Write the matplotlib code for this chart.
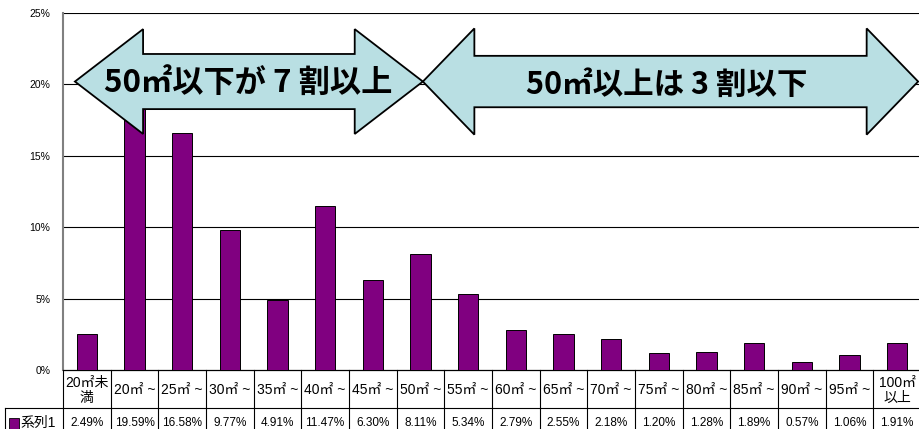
#!/usr/bin/env python3
"""Floor-area distribution bar chart with data table and two arrow callouts."""

import matplotlib
matplotlib.use('Agg')
import matplotlib.pyplot as plt
from matplotlib import font_manager
from matplotlib.patches import Polygon, Rectangle
from matplotlib.transforms import blended_transform_factory

# --- data -----------------------------------------------------------------
categories = ['20㎡未\n満', '20㎡ ~', '25㎡ ~', '30㎡ ~', '35㎡ ~', '40㎡ ~',
              '45㎡ ~', '50㎡ ~', '55㎡ ~', '60㎡ ~', '65㎡ ~', '70㎡ ~',
              '75㎡ ~', '80㎡ ~', '85㎡ ~', '90㎡ ~', '95㎡ ~', '100㎡\n以上']
values = [2.49, 19.59, 16.58, 9.77, 4.91, 11.47, 6.30, 8.11, 5.34,
          2.79, 2.55, 2.18, 1.20, 1.28, 1.89, 0.57, 1.06, 1.91]
series_name = '系列1'
y_ticks = [0, 5, 10, 15, 20, 25]
callouts = ['50㎡以下が 7 割以上', '50㎡以上は 3 割以下']

BAR_COLOR = '#800080'
ARROW_COLOR = '#b9dfe3'
SANS = ['Liberation Sans', 'Noto Sans CJK JP']
CJK_BOLD = ['Noto Sans CJK JP', 'DejaVu Sans']


def narrow_font():
    """Use Liberation Sans Narrow for the value row when it is installed."""
    try:
        font_manager.findfont('Liberation Sans Narrow', fallback_to_default=False)
        return ['Liberation Sans Narrow', 'Noto Sans CJK JP'], 10
    except ValueError:
        return SANS, 8.5


def double_arrow(ax, x0, x1, yc, head_len, head_half, shaft_half):
    """Draw a left-right block arrow in data coordinates."""
    pts = [(x0, yc),
           (x0 + head_len, yc + head_half), (x0 + head_len, yc + shaft_half),
           (x1 - head_len, yc + shaft_half), (x1 - head_len, yc + head_half),
           (x1, yc),
           (x1 - head_len, yc - head_half), (x1 - head_len, yc - shaft_half),
           (x0 + head_len, yc - shaft_half), (x0 + head_len, yc - head_half)]
    ax.add_patch(Polygon(pts, closed=True, facecolor=ARROW_COLOR,
                         edgecolor='black', linewidth=1.3, zorder=5,
                         clip_on=False))


def main():
    W, H = 919, 429
    fig = plt.figure(figsize=(W / 100, H / 100), dpi=100)
    ax = fig.add_axes([63 / W, 59 / H, 858 / W, 357 / H])

    n = len(categories)
    x = list(range(n))
    ax.bar(x, values, width=0.42, color=BAR_COLOR, edgecolor='black',
           linewidth=0.7, zorder=3)

    ax.set_xlim(-0.5, n - 0.5)
    ax.set_ylim(0, 25)
    ax.set_yticks(y_ticks)
    ax.set_yticklabels([f'{t}%' for t in y_ticks], fontsize=7.5, family=SANS)
    ax.tick_params(axis='y', length=0, pad=9)
    ax.set_xticks([])
    for t in y_ticks[1:]:
        ax.axhline(t, color='black', linewidth=0.8, zorder=1)

    for side in ['top', 'right']:
        ax.spines[side].set_visible(False)
    ax.spines['left'].set_color('#808080')
    ax.spines['left'].set_linewidth(1.5)
    ax.spines['bottom'].set_color('black')
    ax.spines['bottom'].set_linewidth(0.9)

    # --- data table below the axes ---
    tr = blended_transform_factory(ax.transData, ax.transAxes)
    row1 = -38 / 357
    row2 = -64 / 357
    val_y = -53 / 357
    label_left = -1.72
    line_kw = dict(color='black', linewidth=0.8, transform=tr, clip_on=False)
    ax.plot([label_left, n - 0.5], [row1, row1], **line_kw)
    ax.plot([label_left, label_left], [row1, row2], **line_kw)
    for i in range(n + 1):
        ax.plot([i - 0.5, i - 0.5], [0, row2], **line_kw)

    val_family, val_size = narrow_font()
    for i, (cat, v) in enumerate(zip(categories, values)):
        ax.text(i, row1 / 2 - 0.004, cat, transform=tr, ha='center',
                va='center', fontsize=10, family=SANS, linespacing=1.15)
        ax.text(i, val_y, f'{v:.2f}%', transform=tr,
                ha='center', va='center', fontsize=val_size, family=val_family)

    ax.add_patch(Rectangle((-1.63, val_y - 0.016), 0.2, 0.03,
                           transform=tr, facecolor=BAR_COLOR,
                           edgecolor='black', linewidth=0.6, clip_on=False))
    ax.text(-1.40, val_y, series_name, transform=tr,
            ha='left', va='center', fontsize=10, family=SANS)

    # --- callout arrows ---
    double_arrow(ax, -0.25, 7.05, 20.2, 1.43, 3.67, 1.93)
    double_arrow(ax, 7.05, 17.44, 20.2, 1.08, 3.72, 1.8)
    ax.text(3.38, 20.1, callouts[0], ha='center', va='center', fontsize=22.5,
            fontweight='bold', family=CJK_BOLD, zorder=6)
    ax.text(12.17, 20.0, callouts[1], ha='center', va='center', fontsize=22,
            fontweight='bold', family=CJK_BOLD, zorder=6)

    fig.savefig('out.png', dpi=100)
    plt.close(fig)


if __name__ == '__main__':
    main()
